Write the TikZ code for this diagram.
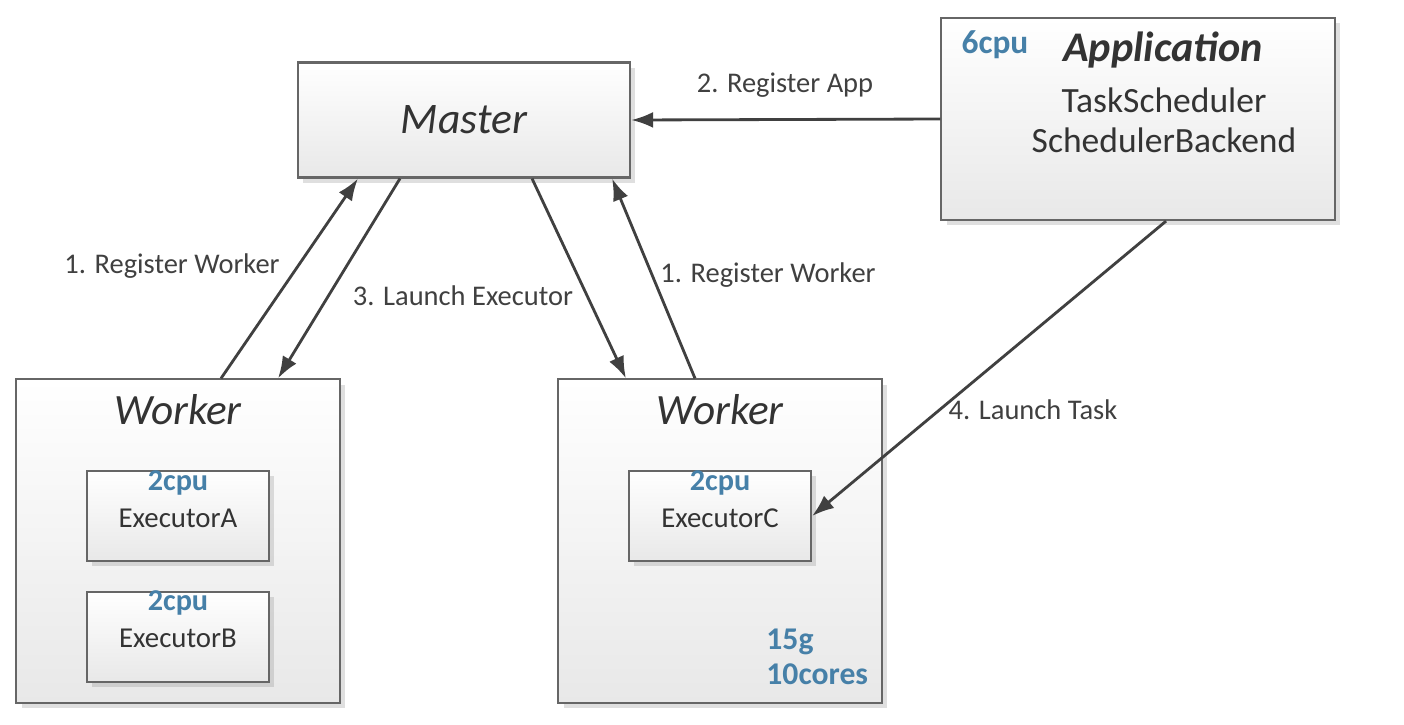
\documentclass[tikz,border=0pt]{standalone}
\usepackage{fontspec}
\setmainfont{Carlito}
\usetikzlibrary{arrows.meta,shadows}
\definecolor{resblue}{RGB}{70,128,168}
\begin{document}
\begin{tikzpicture}[x=0.01cm, y=-0.01cm,
  box/.style={draw=black!60, line width=0.6pt, top color=white, bottom color=black!9,
    drop shadow={shadow xshift=1.5pt, shadow yshift=-1.5pt, opacity=0.25}, inner sep=0pt},
  msg/.style={draw=black!75, line width=0.8pt, -{Latex[length=2.2mm,width=1.6mm]}},
  lbl/.style={text=black!75, font=\fontsize{8.1}{9}\selectfont},
  res/.style={text=resblue, font=\bfseries\fontsize{8.6}{9}\selectfont},
  every node/.style={text=black!80}]
  \useasboundingbox (0,0) rectangle (1404,724);
  % master and application
  \node[box, minimum width=3.32cm, minimum height=1.15cm] (master) at (464,120)
    {\fontsize{12.4}{14}\selectfont\itshape Master};
  \node[box, minimum width=3.93cm, minimum height=2.02cm] (app) at (1138,119) {};
  \node[res, font=\bfseries\fontsize{9.5}{10}\selectfont] (appcpu) at (995,45) {6cpu};
  \node (apptitle) at (1163,50) {\fontsize{12}{14}\selectfont\bfseries\itshape Application};
  \node (tsched) at (1164,100) {\fontsize{10.1}{11}\selectfont TaskScheduler};
  \node (sbackend) at (1164,140) {\fontsize{10.1}{11}\selectfont SchedulerBackend};
  % left worker
  \node[box, minimum width=3.23cm, minimum height=3.23cm] (lworker) at (178,541) {};
  \node (lwtitle) at (178,410) {\fontsize{12.3}{14}\selectfont\itshape Worker};
  \node[box, minimum width=1.82cm, minimum height=0.9cm] (exa) at (178,516) {};
  \node[res] (exacpu) at (178,483) {2cpu};
  \node (exaname) at (178,518) {\fontsize{8.2}{9}\selectfont ExecutorA};
  \node[box, minimum width=1.82cm, minimum height=0.9cm] (exb) at (178,637) {};
  \node[res] (exbcpu) at (178,603) {2cpu};
  \node (exbname) at (178,638) {\fontsize{8.2}{9}\selectfont ExecutorB};
  % right worker
  \node[box, minimum width=3.23cm, minimum height=3.23cm] (rworker) at (720,541) {};
  \node (rwtitle) at (720,410) {\fontsize{12.3}{14}\selectfont\itshape Worker};
  \node[box, minimum width=1.82cm, minimum height=0.9cm] (exc) at (720,516) {};
  \node[res] (exccpu) at (720,483) {2cpu};
  \node (excname) at (720,518) {\fontsize{8.2}{9}\selectfont ExecutorC};
  \node[res, font=\bfseries\fontsize{9}{10}\selectfont, anchor=west, align=left] (rwres) at (754,657) {15g\\10cores};
  % messages
  \draw[msg] (app.west) -- (master.east);
  \draw[msg] ([xshift=0.43cm]lworker.north) -- ([xshift=-1.06cm]master.south);
  \draw[msg] ([xshift=-0.64cm]master.south) -- ([xshift=1cm]lworker.north);
  \draw[msg] ([xshift=0.68cm]master.south) -- ([xshift=-0.94cm]rworker.north);
  \draw[msg] ([xshift=-0.25cm]rworker.north) -- ([xshift=1.48cm]master.south);
  \draw[msg] ([xshift=0.28cm]app.south) -- (exc.east);
  \node[lbl] (regapp) at (785,85) {2. Register App};
  \node[lbl] (lreg) at (172,266) {1. Register Worker};
  \node[lbl] (launchex) at (463,296) {3. Launch Executor};
  \node[lbl, anchor=west] (rreg) at (648,275) {1. Register Worker};
  \node[lbl] (launchtask) at (1033,410) {4. Launch Task};
\end{tikzpicture}
\end{document}
